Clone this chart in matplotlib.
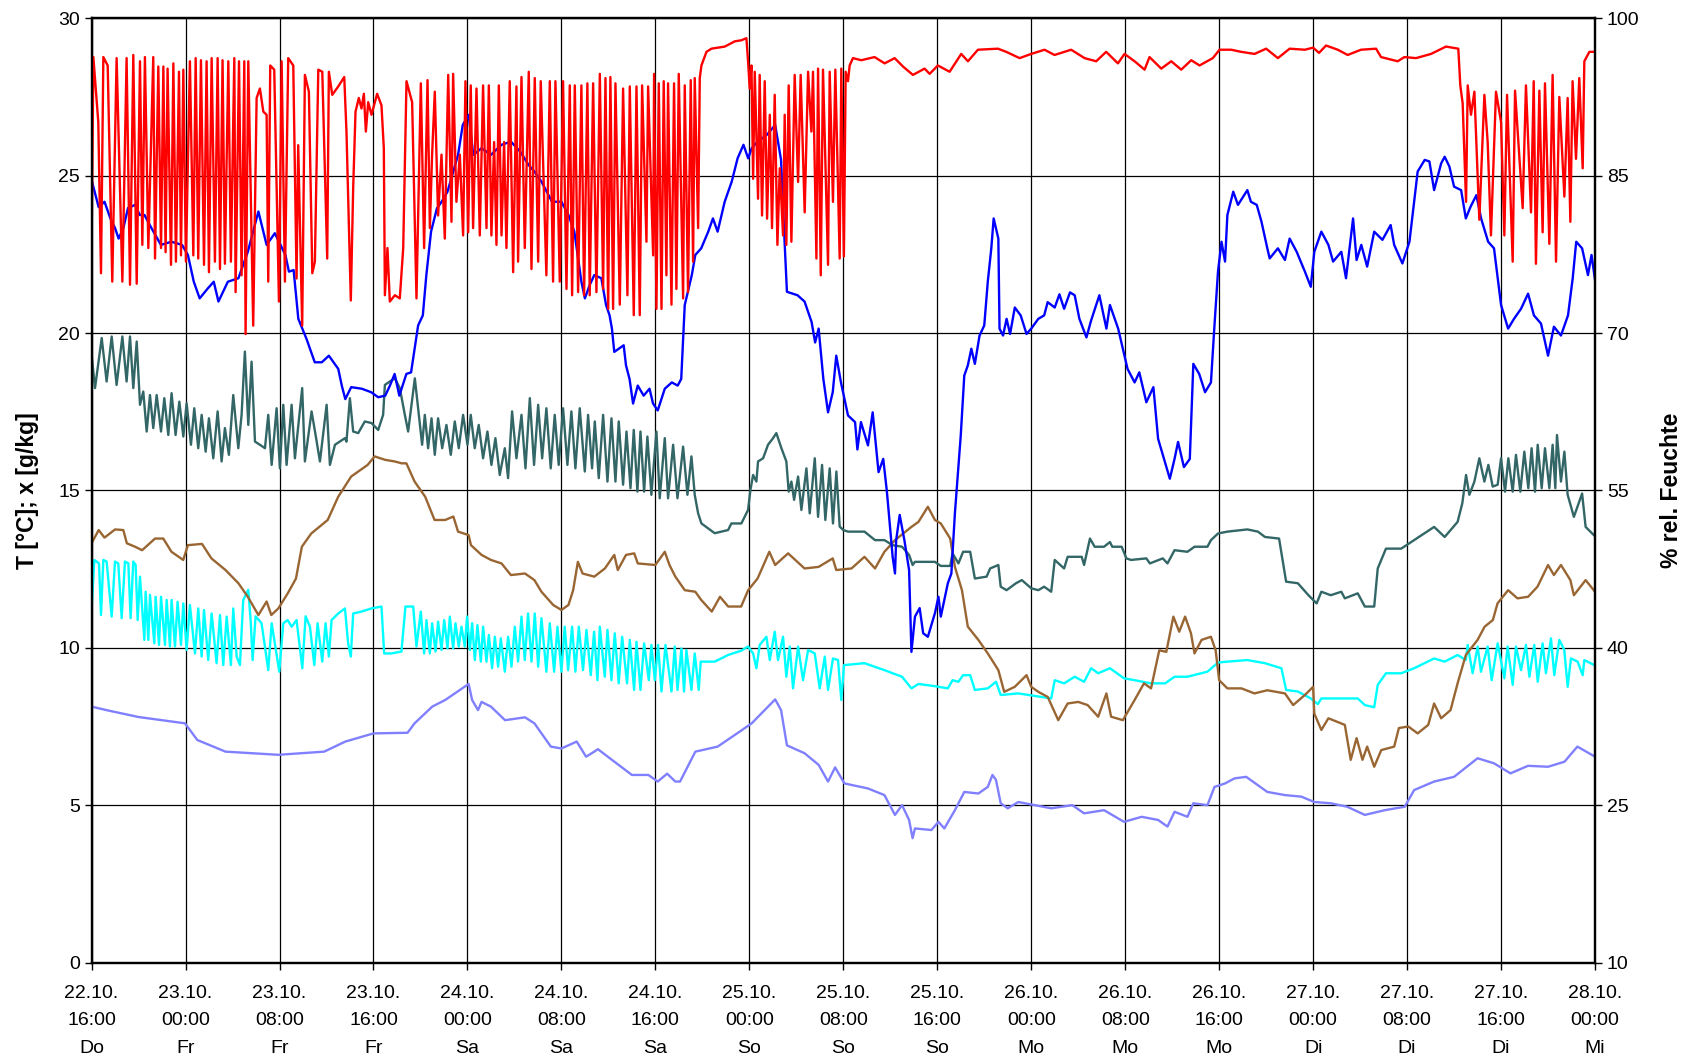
import matplotlib
matplotlib.use("Agg")
import matplotlib.pyplot as plt

plt.rcParams['font.family'] = ['Liberation Sans', 'DejaVu Sans']

# ---------------- data (time in hours since 22.10. 16:00) ----------------
tick_dates = ["22.10.", "23.10.", "23.10.", "23.10.", "24.10.", "24.10.", "24.10.", "25.10.", "25.10.",
              "25.10.", "26.10.", "26.10.", "26.10.", "27.10.", "27.10.", "27.10.", "28.10."]
tick_times = ["16:00", "00:00", "08:00", "16:00", "00:00", "08:00", "16:00", "00:00", "08:00",
              "16:00", "00:00", "08:00", "16:00", "00:00", "08:00", "16:00", "00:00"]
tick_days = ["Do", "Fr", "Fr", "Fr", "Sa", "Sa", "Sa", "So", "So", "So", "Mo", "Mo", "Mo", "Di", "Di", "Di", "Mi"]

# relative humidity (right axis, %)
red_pts = [
    (0.0,78.4),(0.15,96.3),(0.57,90.1),(0.80,75.7),(1.0,96.3),(1.37,95.5),(1.76,74.9),(2.13,96.2),(2.62,74.9),(2.98,96.2),
    (3.27,74.6),(3.55,96.5),(3.84,74.7),(4.12,95.9),(4.32,78.4),(4.54,96.3),(4.83,78.1),(5.25,96.3),(5.40,77.1),(5.68,95.4),
    (5.91,78.1),(6.11,95.4),(6.30,77.7),(6.47,95.2),(6.76,76.5),(6.96,95.7),(7.18,76.8),(7.44,94.9),(7.61,77.4),(7.81,95.1),
    (8.03,76.8),(8.37,95.9),(8.66,77.4),(8.86,96.2),(9.08,77.1),(9.31,96.0),(9.57,76.5),(9.79,95.9),(9.99,75.8),(10.22,96.2),
    (10.50,76.8),(10.73,96.2),(10.93,76.1),(11.15,96.0),(11.35,76.6),(11.64,95.9),(11.86,76.8),(12.15,96.2),(12.26,73.9),
    (12.55,95.9),(12.77,75.5),(13.0,95.9),(13.11,69.9),(13.34,95.9),(13.76,70.7),(14.05,92.4),(14.33,93.3),(14.62,91.1),
    (14.90,90.8),(15.04,74.9),(15.21,95.5),(15.55,95.1),(15.95,73.0),(16.18,95.9),(16.46,74.9),(16.74,96.2),(17.17,95.5),
    (17.45,75.2),(17.59,87.9),(17.93,70.7),(18.16,94.6),(18.50,93.0),(18.79,75.7),(19.01,76.8),(19.30,95.1),(19.64,94.9),
    (20.06,77.1),(20.20,94.9),(20.49,92.7),(21.0,93.5),(21.51,94.4),
    (21.70,89.2),(21.90,80.3),(22.07,73.1),(22.27,83.8),(22.47,91.1),(22.75,92.4),(22.98,91.4),(23.18,92.8),(23.35,89.2),
    (23.55,92.0),(23.83,90.8),(24.31,92.8),(24.68,91.7),(24.88,87.6),(24.97,73.6),(25.19,78.1),(25.39,73.0),(25.82,73.6),
    (26.24,73.3),(26.53,78.1),(26.81,94.0),(27.29,92.0),(27.52,80.6),(27.66,73.3),(28.03,93.8),(28.31,78.1),(28.60,94.1),
    (28.80,80.0),(28.99,87.0),(29.22,93.0),(29.50,81.2),(29.79,87.0),(30.07,79.0),(30.36,94.6),(30.64,80.6),(30.78,94.7),
    (31.06,82.5),(31.35,87.0),(31.63,79.3),(31.83,94.0),(32.06,79.6),(32.28,93.6),(32.48,80.0),(32.77,93.3),(33.05,79.3),
    (33.33,93.6),(33.62,80.0),(33.82,93.6),(34.04,79.3),(34.27,88.2),(34.47,78.4),(34.67,93.6),(34.90,79.3),(35.12,88.2),
    (35.32,78.1),(35.60,94.0),(35.89,75.8),(36.17,93.5),(36.31,76.8),(36.60,94.4),(36.88,78.1),(37.22,94.9),(37.45,76.1),
    (37.73,94.3),(38.02,76.8),(38.24,94.0),(38.72,75.5),(39.01,94.0),(39.29,74.9),(39.49,94.0),(39.86,74.9),(40.14,94.0),
    (40.43,74.2),(40.71,93.6),(40.91,73.6),(41.14,93.6),(41.42,73.9),(41.70,93.6),(41.93,73.6),(42.21,93.8),(42.41,73.6),
    (42.70,93.8),
    (42.98,73.9),(43.27,94.7),(43.55,74.2),(43.75,94.3),(43.98,72.3),(44.17,94.4),(44.40,72.3),(44.60,93.8),(44.97,72.7),
    (45.25,93.3),(45.62,73.6),(45.82,93.5),(46.16,71.7),(46.39,93.5),(46.67,71.7),(46.87,93.6),(47.24,78.7),(47.38,93.5),
    (47.81,77.4),(47.89,94.7),(48.09,72.3),(48.29,93.8),(48.52,72.3),(48.71,94.0),(48.94,75.5),(49.08,93.8),(49.37,72.7),
    (49.59,93.8),(49.79,74.2),(49.99,94.7),(50.36,73.3),(50.50,93.6),(50.78,73.9),(51.01,94.1),(51.21,76.8),(51.35,94.3),
    (51.64,80.0),(51.78,94.3),(51.92,95.5),(52.35,96.8),(52.77,97.1),(53.91,97.3),(54.76,97.8),(55.32,97.9),(55.75,98.1),
    (55.89,95.9),(56.03,93.3),(56.18,95.5),(56.32,84.7),(56.46,94.9),(56.74,82.8),(56.88,94.6),(57.08,81.2),(57.31,94.0),
    (57.51,80.9),(57.74,90.8),(57.93,80.0),(58.16,92.7),(58.39,78.4),(58.59,85.7),(58.87,79.3),(59.01,90.8),(59.15,78.4),
    (59.35,93.6),(59.58,78.7),(59.86,94.6),(60.15,84.4),(60.37,94.6),(60.71,81.5),(61.0,94.9),(61.28,89.2),(61.42,94.9),
    (61.71,77.1),(61.85,95.2),(62.08,75.5),(62.27,95.1),(62.70,76.5),(62.84,94.9),(63.12,82.5),(63.32,95.1),(63.69,77.1),
    (63.83,95.2),(64.05,77.3),
    (64.2,94.9),(64.4,94.0),(64.54,95.5),(64.82,96.2),(65.53,96.0),(66.66,96.3),(67.52,95.7),(68.37,96.2),(69.08,95.4),
    (69.93,94.6),(70.92,95.2),(71.35,94.7),(72.05,95.5),(73.05,94.9),(74.04,96.6),(74.61,95.9),(75.46,97.0),(77.16,97.1),
    (77.87,96.8),(79.01,96.2),(80.0,96.6),(81.13,97.0),(81.98,96.5),(83.40,97.0),(84.54,96.2),
    (85.53,95.9),(86.38,96.8),(87.38,95.7),(87.94,96.6),(88.80,95.9),(89.65,95.1),(90.07,96.3),(91.07,95.2),(91.92,95.9),
    (92.77,95.1),(93.62,96.0),(94.33,95.5),(95.46,96.2),(96.03,97.0),(97.02,97.0),(97.87,96.8),(99.01,96.6),(100.0,97.1),
    (101.0,96.2),(102.0,97.1),(103.3,97.0),(104.0,97.2),(104.5,96.7),(105.1,97.4),(106.1,97.0),
    (106.94,96.5),(108.08,97.0),(109.36,97.1),(109.78,96.3),(111.20,95.9),(111.77,96.3),(112.76,96.2),(114.04,96.6),
    (115.31,97.3),(116.36,97.1),(116.53,93.6),(116.73,91.9),(117.02,82.5),(117.16,93.6),(117.44,90.8),(117.73,93.0),
    (118.15,80.8),(118.58,92.7),(118.86,88.2),(119.14,79.3),(119.57,93.0),(120.0,90.1),(120.28,79.3),(120.51,92.7),
    (120.99,76.8),(121.19,93.1),(121.84,81.9),(122.12,93.6),(122.55,81.5),(122.78,94.0),(122.97,76.6),(123.26,93.1),
    (123.54,79.6),(123.74,93.8),(124.11,78.5),(124.39,94.6),(124.68,76.8),(124.96,92.5),(125.39,83.0),(125.67,92.4),
    (125.90,80.6),(126.09,94.0),(126.38,86.6),(126.66,94.3),(126.95,85.7),(127.09,95.9),(127.52,96.8),(128.0,96.8),
]

# temperature (left axis)
blue_pts = [
    (0,24.86),(0.6,24.0),(1.1,24.17),(1.6,23.64),(2.0,23.33),(2.3,23.0),(2.7,23.33),(3.1,23.97),(3.7,24.07),(4.1,23.75),
    (4.5,23.75),(5.1,23.33),(5.9,22.8),(6.8,22.9),(7.7,22.8),(8.2,22.48),(8.7,21.63),(9.2,21.1),(9.9,21.42),(10.4,21.63),
    (10.8,21.0),(11.6,21.63),(12.5,21.74),(12.9,22.16),(13.3,22.58),(14.2,23.86),(14.9,22.8),(15.6,23.17),(16.5,22.48),
    (16.8,21.95),(17.2,22.0),(17.6,20.45),(18.3,19.81),(19.0,19.07),(19.6,19.07),(20.2,19.28),(21.0,18.86),(21.3,18.33),
    (21.6,17.9),(22.1,18.28),(23.0,18.23),(23.8,18.12),(24.4,17.96),(25.0,18.01),(25.4,18.33),(25.8,18.7),(26.2,18.01),
    (26.8,18.7),(27.2,18.75),(27.5,19.5),(27.8,20.24),(28.2,20.56),(28.5,21.84),(28.9,23.22),(29.4,23.96),(29.8,24.17),
    (30.3,24.49),(31.2,25.66),(31.6,26.61),(32.1,26.93),(32.5,25.66),(33.2,25.87),(34.0,25.66),(34.9,25.98),(35.7,26.08),
    (36.5,25.76),(37.2,25.34),(37.7,25.13),(38.3,24.81),(39.2,24.17),(40.0,24.17),(40.6,23.75),(41.1,23.22),(41.7,21.63),
    (42.0,21.1),(42.4,21.52),(42.8,21.84),(43.4,21.74),(43.8,20.89),(44.1,20.56),(44.3,20.14),(44.5,19.4),(45.3,19.61),
    (45.5,18.97),(45.8,18.54),(46.1,17.76),(46.5,18.33),(47.0,18.01),(47.5,18.23),(47.8,17.76),(48.2,17.54),(48.8,18.23),
    (49.4,18.43),(49.9,18.33),(50.2,18.54),(50.5,20.89),(51.1,21.84),(51.4,22.48),(51.9,22.69),(52.5,23.22),(52.9,23.64),
    (53.3,23.22),(53.9,24.17),(54.5,24.81),(55.0,25.55),(55.5,25.98),(55.9,25.55),(56.2,25.87),(56.7,26.08),(57.5,26.3),
    (58.2,26.61),(58.7,25.5),(59.0,22.9),(59.2,21.31),(60.1,21.2),(60.7,21.0),(61.3,20.35),(61.6,19.7),(61.9,20.14),
    (62.3,18.54),(62.7,17.48),(63.1,18.12),(63.4,19.28),(63.8,18.43),(64.4,17.38),(65.0,17.17),(65.2,16.3),(65.5,17.17),
    (66.1,16.43),(66.5,17.48),(67.0,15.58),(67.4,16.0),(67.7,15.0),(67.8,14.59),(68.2,12.89),(68.4,12.36),(68.5,13.42),
    (68.8,14.22),(69.2,13.42),(69.6,12.47),(69.8,9.87),(70.1,10.99),(70.5,11.26),(70.8,10.46),(71.2,10.35),(71.8,11.1),
    (72.1,11.62),(72.3,10.99),(72.9,12.05),(73.2,12.36),(73.5,14.27),(74.0,16.75),(74.3,18.65),(74.6,18.97),(74.9,19.5),
    (75.2,19.02),(75.6,19.92),(76.0,20.24),(76.3,21.63),(76.6,22.69),(76.8,23.64),(77.2,23.0),(77.3,20.14),(77.6,19.92),
    (77.9,20.45),(78.2,19.97),(78.6,20.81),(79.1,20.56),(79.6,19.97),(80.0,20.14),(80.6,20.45),(81.1,20.56),(81.4,20.98),
    (82.0,20.81),(82.4,21.23),(82.8,20.77),(83.3,21.29),(83.7,21.2),(84.1,20.45),(84.7,19.86),(85.1,20.4),(85.8,21.2),
    (86.4,20.14),(86.7,20.89),(87.4,20.14),(88.2,18.86),(88.8,18.43),(89.2,18.75),(89.8,17.8),(90.4,18.28),(90.8,16.64),
    (91.3,16.0),(91.8,15.37),(92.2,16.0),(92.5,16.54),(93.0,15.74),(93.5,16.0),(93.8,19.02),(94.3,18.7),(94.8,18.12),
    (95.3,18.43),(95.6,20.24),(95.9,21.95),(96.2,22.9),(96.5,22.27),(96.7,23.75),(97.2,24.49),(97.6,24.07),(98.4,24.54),
    (98.7,24.17),(99.2,24.07),(99.6,23.54),(100.1,22.69),(100.3,22.37),(101.0,22.69),(101.6,22.32),(102.0,23.0),
    (102.6,22.58),(103.3,21.95),(103.8,21.47),(104.1,22.58),(104.7,23.22),(105.3,22.8),(105.7,22.27),(106.4,22.58),
    (106.8,21.74),(107.4,23.64),(107.7,22.32),(108.1,22.8),(108.6,22.11),(109.2,23.22),(109.9,22.96),(110.6,23.43),
    (110.9,22.8),(111.6,22.21),(112.2,22.9),(112.6,24.17),(112.9,25.13),(113.5,25.5),(113.9,25.45),(114.3,24.54),
    (114.9,25.39),(115.2,25.6),(115.6,25.29),(116.0,24.65),(116.6,24.54),(117.0,23.64),(117.4,24.01),(117.9,24.38),
    (118.3,23.64),(118.9,22.9),(119.4,22.69),(120.0,20.89),(120.6,20.14),(121.1,20.45),(121.7,20.77),(122.3,21.25),
    (122.8,20.56),(123.4,20.3),(124.0,19.28),(124.5,20.2),(125.1,19.92),(125.7,20.56),(126.1,21.74),(126.4,22.9),
    (126.9,22.69),(127.4,21.84),(127.7,22.48),(128.0,21.69),
]

teal_pts = [
    (0.0,19.31),(0.29,18.25),(0.86,19.84),(1.28,18.46),(1.71,19.89),(2.13,18.35),(2.62,19.89),(2.98,18.46),(3.27,19.89),
    (3.55,18.25),(3.84,19.73),(4.12,17.72),(4.40,18.14),(4.69,16.87),(4.97,18.03),(5.25,16.98),(5.54,18.03),(5.91,16.87),
    (6.19,17.93),(6.53,16.76),(6.81,18.09),(7.15,16.76),(7.47,17.82),(7.81,16.71),(8.09,17.77),(8.46,16.45),(8.74,17.61),
    (9.08,16.34),(9.37,17.40),(9.71,16.23),(9.99,17.29),(10.36,16.02),(10.73,17.51),(11.07,15.92),(11.35,16.98),
    (11.69,16.13),(12.06,18.03),(12.49,16.34),(12.77,17.40),(13.05,19.41),(13.34,17.08),(13.62,19.09),(13.91,16.55),
    (14.33,16.45),(14.76,16.34),(15.04,17.40),(15.33,15.81),(15.75,17.61),(16.03,15.70),(16.32,17.72),(16.60,15.81),
    (17.03,17.72),(17.31,16.02),(17.93,18.25),(18.16,15.92),(18.73,17.51),(19.07,16.76),(19.44,15.92),(20.01,17.72),
    (20.29,15.81),(20.72,16.45),(21.57,16.66),(21.70,16.55),(21.99,17.93),(22.27,16.87),(22.70,16.82),(23.26,17.19),
    (23.83,17.14),(24.40,16.92),(24.82,17.40),(24.97,18.35),(25.39,18.46),(25.82,18.56),(26.24,18.25),(26.67,17.40),
    (26.95,16.87),(27.52,18.56),(27.80,17.61),(28.14,16.45),(28.37,17.40),(28.65,16.34),(28.94,17.29),(29.22,16.13),
    (29.50,17.29),(29.85,16.34),(30.21,17.08),(30.58,16.13),(30.92,17.19),(31.26,16.34),(31.63,17.40),(32.0,16.45),
    (32.28,17.40),(32.62,16.34),(32.96,17.08),(33.33,16.02),(33.70,16.87),(34.04,15.81),(34.38,16.66),(34.75,15.49),
    (35.18,16.34),(35.46,15.39),(35.80,17.51),(36.17,16.02),(36.60,17.40),(36.94,15.70),(37.31,17.93),(37.67,15.81),
    (38.02,17.72),(38.36,16.02),(38.72,17.61),(39.09,15.70),(39.43,17.40),(39.77,15.81),(40.14,17.61),(40.51,15.81),
    (40.85,17.51),(41.19,15.70),(41.56,17.61),(41.99,15.60),(42.27,17.40),(42.61,15.70),(42.84,17.19),(43.18,15.39),
    (43.55,17.40),(43.92,15.28),(44.26,17.29),(44.60,15.28),(44.88,17.19),(45.25,15.18),(45.54,16.87),(45.88,15.07),
    (46.16,16.92),(46.47,14.96),(46.73,16.87),(47.04,14.96),(47.32,16.71),(47.66,14.86),(48.09,16.87),(48.37,14.75),
    (48.80,16.66),(49.08,14.75),(49.51,16.45),(49.88,14.75),(50.36,16.39),(50.73,14.86),(51.07,16.08),(51.35,14.86),
    (51.64,14.27),(51.92,13.95),(53.05,13.64),(54.19,13.74),(54.47,13.95),(55.32,13.95),(55.89,14.38),(56.09,15.01),
    (56.32,15.49),(56.60,15.28),(56.74,15.92),(57.17,16.02),(57.59,16.45),(58.02,16.66),(58.30,16.82),(58.73,16.34),
    (59.15,15.92),(59.35,14.96),(59.58,15.28),(59.81,14.7),(60.15,15.44),(60.43,14.38),(60.86,15.70),(61.14,14.27),
    (61.57,16.02),(61.85,14.16),(62.19,15.81),(62.47,14.06),(62.84,15.70),(63.12,13.95),(63.41,15.60),(63.69,13.85),
    (64.0,13.74),(64.4,13.69),(65.8,13.69),(66.7,13.42),(67.5,13.42),(68.2,13.26),(69.0,13.21),(69.6,12.95),(69.9,12.63),
    (70.1,12.73),(71.8,12.73),(72.3,12.60),(73.1,12.60),(73.3,13.0),(73.8,12.68),(74.2,13.05),(74.8,13.05),(75.2,12.20),
    (76.2,12.26),(76.5,12.52),(77.2,12.63),(77.4,11.94),(77.9,11.83),(78.7,12.05),(79.2,12.15),(80.0,11.89),(80.6,11.83),
    (81.1,11.94),(81.7,11.78),(82.0,12.79),(82.8,12.52),(83.1,12.89),(84.3,12.89),(84.5,12.63),(85.0,13.47),(85.4,13.21),
    (86.2,13.21),(86.7,13.36),(86.9,13.21),(87.7,13.21),(88.1,12.84),(88.5,12.79),(89.8,12.84),(90.1,12.68),(91.2,12.84),
    (91.6,12.68),(92.2,13.10),(93.3,13.05),(93.9,13.21),(95.0,13.21),(95.3,13.42),(95.9,13.63),(96.7,13.69),(98.4,13.76),
    (99.3,13.69),(99.9,13.52),(101.1,13.47),(101.7,12.10),(102.7,12.05),(103.6,11.67),(104.3,11.41),(104.7,11.78),
    (105.5,11.67),(106.4,11.78),(106.7,11.57),(107.8,11.73),(108.4,11.31),(109.2,11.31),(109.5,12.52),(110.2,13.15),
    (111.5,13.15),(112.6,13.42),(114.3,13.84),(115.2,13.52),(116.3,14.0),(116.7,14.59),(117.02,15.49),(117.30,14.86),
    (117.73,15.28),(118.15,16.02),(118.58,15.28),(118.92,15.81),(119.29,15.12),(119.71,15.18),(120.0,16.02),(120.34,14.96),
    (120.62,16.02),(120.99,14.96),(121.27,16.13),(121.64,14.96),(121.98,16.23),(122.32,15.07),(122.60,16.34),(122.89,14.96),
    (123.12,16.45),(123.46,15.07),(123.74,16.34),(124.11,15.07),(124.39,16.45),(124.62,15.07),(124.76,16.76),(125.10,15.28),
    (125.39,16.23),(125.67,14.86),(126.2,14.16),(126.9,14.9),(127.2,13.84),(127.9,13.58),
]

brown_pts = [
    (0,13.32),(0.6,13.74),(1.1,13.5),(2.0,13.76),(2.7,13.74),(3.0,13.32),(3.7,13.21),(4.3,13.1),(5.4,13.47),(6.1,13.47),
    (6.8,13.05),(7.8,12.79),(8.2,13.26),(9.4,13.3),(10.2,12.84),(11.4,12.47),(12.5,12.05),(13.3,11.62),(14.2,11.04),
    (14.9,11.47),(15.3,11.04),(15.9,11.25),(16.7,11.73),(17.4,12.2),(17.9,13.21),(18.7,13.63),(20.1,14.06),(21.0,14.8),
    (22.1,15.44),(23.5,15.81),(24.1,16.08),(25.0,15.97),(25.8,15.92),(26.4,15.86),(26.8,15.86),(27.5,15.28),(28.4,14.8),
    (29.2,14.06),(30.1,14.06),(30.8,14.17),(31.2,13.69),(32.1,13.58),(32.3,13.26),(33.2,12.95),(34.0,12.79),(34.9,12.68),
    (35.7,12.31),(36.9,12.36),(37.7,12.15),(38.3,11.78),(39.3,11.36),(40.0,11.2),(40.6,11.36),(41.0,11.83),(41.4,12.73),
    (41.8,12.36),(42.8,12.26),(43.7,12.52),(44.5,12.95),(44.8,12.47),(45.5,12.95),(46.2,13.0),(46.5,12.68),(48.0,12.63),
    (48.8,13.05),(49.2,12.63),(49.7,12.26),(50.5,11.83),(51.4,11.78),(51.9,11.52),(52.8,11.15),(53.5,11.62),(54.2,11.31),
    (55.3,11.31),(55.9,11.83),(56.7,12.2),(57.7,13.05),(58.2,12.63),(59.3,13.0),(60.7,12.52),(61.9,12.57),(63.1,12.84),
    (63.4,12.47),(64.7,12.52),(65.8,12.89),(66.7,12.52),(67.5,13.05),(68.4,13.42),(69.8,13.84),(70.4,14.0),(71.2,14.48),
    (71.8,14.06),(72.3,13.95),(73.1,13.47),(73.5,12.57),(74.1,11.83),(74.6,10.67),(75.5,10.25),(76.3,9.82),(77.2,9.29),
    (77.7,8.6),(78.6,8.76),(79.6,9.13),(80.0,8.76),(80.6,8.6),(81.4,8.44),(82.3,7.7),(83.1,8.23),(84.0,8.28),(84.8,8.18),
    (85.7,7.81),(86.4,8.55),(86.8,7.81),(87.8,7.7),(88.8,8.34),(89.6,8.87),(90.2,8.71),(90.9,9.92),(91.5,9.87),(92.1,10.99),
    (92.6,10.51),(93.1,10.99),(93.6,10.46),(93.9,9.82),(94.5,10.25),(95.3,10.35),(95.7,9.92),(96.0,8.97),(96.7,8.71),
    (97.9,8.71),(99.0,8.55),(100.1,8.65),(101.6,8.55),(102.3,8.18),(103.3,8.5),(104.0,8.76),(104.1,7.91),(104.7,7.39),
    (105.3,7.76),(106.7,7.55),(107.2,6.44),(107.7,7.13),(108.2,6.44),(108.6,6.86),(109.2,6.22),(109.8,6.75),(110.9,6.86),
    (111.3,7.45),(112.1,7.5),(112.9,7.28),(113.8,7.55),(114.3,8.23),(114.9,7.76),(115.7,8.02),(116.3,8.87),(117.0,9.77),
    (118.0,10.25),(118.6,10.67),(119.3,10.88),(119.7,11.41),(120.6,11.83),(121.4,11.57),(122.3,11.62),(123.1,11.94),
    (124.0,12.63),(124.5,12.31),(125.1,12.63),(125.9,12.15),(126.2,11.67),(127.2,12.15),(128.0,11.78),
]

cyan_pts = [
    (0.0,11.2),(0.23,12.79),(0.63,12.68),(0.80,11.04),(1.0,12.79),(1.28,12.74),(1.71,10.99),(1.99,12.74),(2.27,12.68),
    (2.56,10.94),(2.84,12.74),(3.13,12.68),(3.32,10.94),(3.55,12.74),(3.75,12.63),(3.92,10.88),(4.12,12.26),(4.49,10.25),
    (4.60,11.78),(4.83,10.25),(4.97,11.68),(5.34,10.14),(5.45,11.62),(5.74,10.09),(5.91,11.62),(6.25,10.09),(6.39,11.52),
    (6.67,10.04),(6.81,11.52),(7.10,10.04),(7.32,11.46),(7.61,10.09),(7.81,11.41),(8.09,9.93),(8.37,11.36),(8.80,9.82),
    (9.08,11.25),(9.37,9.72),(9.57,11.2),(9.93,9.61),(10.22,11.09),(10.64,9.51),(10.93,11.04),(11.21,9.45),(11.50,10.99),
    (11.86,9.45),(12.06,11.25),(12.35,9.72),(12.63,9.45),(12.91,11.52),(13.34,11.84),(13.54,10.88),(13.71,9.61),(13.96,11.0),
    (14.47,10.78),(15.04,9.29),(15.33,10.78),(15.98,9.24),(16.32,10.78),(16.69,10.88),(17.03,10.67),(17.45,10.88),
    (17.94,9.35),(18.22,11.0),(18.59,10.67),(18.96,9.45),(19.24,10.78),(19.64,9.56),(19.92,10.78),(20.20,9.72),(20.43,10.88),
    (21.0,11.09),(21.57,11.25),(21.84,10.14),(22.07,9.72),(22.27,11.09),(22.98,11.15),(23.83,11.25),(24.68,11.31),
    (24.91,9.82),(25.53,9.82),(26.38,9.88),(26.72,11.31),(27.38,11.31),(27.66,10.04),(28.03,11.15),(28.31,9.82),(28.51,10.88),
    (28.80,9.82),(28.99,10.78),(29.28,9.88),(29.50,10.83),(29.79,9.93),(30.02,10.88),(30.30,9.98),(30.50,10.99),(30.78,9.98),
    (30.98,10.78),(31.26,10.04),(31.49,10.67),(31.77,10.04),(31.97,10.99),(32.20,9.93),(32.40,10.78),(32.63,9.61),
    (32.85,10.72),(33.14,9.56),(33.33,10.67),(33.62,9.56),(33.82,10.41),(34.10,9.35),(34.33,10.35),(34.61,9.40),(34.84,10.30),
    (35.18,9.24),(35.46,10.35),(35.75,9.40),(36.03,10.67),(36.31,9.56),(36.60,10.99),(36.88,9.61),(37.16,11.09),(37.45,9.56),
    (37.73,11.09),(38.02,9.40),(38.30,10.94),(38.72,9.24),(39.01,10.78),(39.38,9.24),(39.66,10.67),(40.0,9.24),(40.28,10.67),
    (40.57,9.29),(40.91,10.67),(41.19,9.24),(41.48,10.67),(41.84,9.29),(42.13,10.57),(42.50,9.13),(42.78,10.51),(43.07,8.97),
    (43.27,10.67),(43.69,9.08),(43.92,10.57),(44.26,8.97),(44.54,10.46),(44.88,8.87),(45.17,10.35),(45.59,8.87),(45.82,10.25),
    (46.19,8.66),(46.39,10.19),(46.73,8.66),(47.04,10.14),(47.44,8.97),(47.66,10.09),(47.95,8.97),(48.23,10.09),(48.52,8.61),
    (48.86,10.09),(49.37,8.61),(49.65,10.04),(49.88,8.66),(50.22,9.98),(50.44,8.61),(50.64,9.93),(51.07,8.66),(51.35,9.82),
    (51.69,8.66),(51.86,9.56),(53.05,9.56),(54.19,9.77),(55.32,9.91),(55.89,10.04),(56.32,9.82),(56.60,9.35),(56.88,10.09),
    (57.45,10.35),(57.74,9.61),(58.16,10.51),(58.44,9.61),(58.87,10.35),(59.15,9.08),(59.44,10.04),(59.72,8.71),(60.15,10.04),
    (60.57,8.97),(61.0,9.93),(61.57,9.82),(61.99,8.71),(62.42,9.72),(62.70,8.66),(63.12,9.66),(63.55,9.61),(63.83,8.34),
    (64.06,9.45),(65.8,9.51),(67.5,9.29),(69.0,9.08),(69.8,8.71),(70.4,8.85),(71.8,8.78),(72.9,8.71),(73.3,8.97),(73.8,8.92),
    (74.2,9.13),(74.8,9.13),(75.2,8.66),(76.3,8.71),(77.0,8.92),(77.4,8.5),(78.9,8.55),(80.3,8.47),(81.7,8.39),(82.0,8.97),
    (82.8,8.87),(83.7,9.08),(84.5,8.92),(85.1,9.35),(85.7,9.19),(86.7,9.35),(87.9,9.03),(88.8,8.97),(90.2,8.87),(91.4,8.87),
    (92.2,9.08),(93.3,9.08),(95.0,9.24),(95.9,9.53),(96.7,9.56),(98.4,9.61),(99.9,9.51),(101.3,9.35),(101.7,8.66),
    (102.7,8.61),(103.8,8.39),(104.4,8.21),(104.7,8.39),(106.7,8.39),(107.8,8.39),(108.4,8.18),(109.2,8.11),(109.5,8.82),
    (110.2,9.19),(111.5,9.19),(112.6,9.35),(114.3,9.66),(115.2,9.56),(116.3,9.77),(117.0,9.61),(117.16,10.09),(117.58,9.19),
    (118.01,10.04),(118.29,9.24),(118.86,10.04),(119.2,8.97),(119.71,10.14),(120.28,9.03),(120.56,10.04),(120.99,8.82),
    (121.27,10.04),(121.70,9.29),(122.12,10.09),(122.41,9.08),(122.83,10.09),(123.12,8.92),(123.54,10.14),(123.82,9.19),
    (124.25,10.30),(124.53,9.13),(124.96,10.25),(125.38,9.93),(125.67,8.76),(125.95,9.66),(126.52,9.56),(126.95,9.13),
    (127.09,9.61),(127.94,9.45),
]

purple_pts = [
    (0,8.13),(1.5,8.0),(4,7.8),(7.95,7.6),(9.0,7.07),(11.4,6.7),(15.9,6.6),(19.8,6.7),(21.6,7.02),(24,7.28),(26.9,7.3),
    (27.5,7.6),(29,8.13),(30.1,8.34),(32.1,8.85),(32.4,8.34),(32.9,8.02),(33.2,8.28),(34,8.13),(35.2,7.7),(36.9,7.79),
    (37.7,7.6),(39.1,6.86),(40,6.8),(41.3,7.02),(42.1,6.54),(42.8,6.7),(43.1,6.78),(44.3,6.44),(46,5.96),(47.4,5.96),
    (48.2,5.75),(49,6.0),(49.7,5.75),(50.1,5.75),(51.4,6.7),(53.3,6.86),(54.8,7.24),(56.2,7.6),(58.2,8.36),(58.7,8.02),
    (59.2,6.9),(60.7,6.65),(61.9,6.28),(62.7,5.75),(63.3,6.2),(64.1,5.69),(66.1,5.53),(67.5,5.32),(68.4,4.69),(69,5.0),
    (69.6,4.53),(69.9,3.95),(70.1,4.26),(71.5,4.21),(72.1,4.47),(72.6,4.26),(73.5,4.84),(74.3,5.42),(75.5,5.37),(76.3,5.58),
    (76.7,5.96),(77,5.8),(77.4,5.06),(78,4.9),(78.9,5.1),(80.3,5.0),(81.7,4.9),(83.5,5.0),(84.5,4.74),(86.2,4.84),(87.9,4.47),
    (89.4,4.63),(90.8,4.53),(91.6,4.32),(92.2,4.79),(93.3,4.63),(93.8,5.06),(95,5.0),(95.6,5.58),(96.5,5.69),(97.3,5.85),
    (98.3,5.9),(100.1,5.42),(101.6,5.32),(103,5.27),(104.1,5.1),(105.5,5.06),(106.9,4.95),(108.4,4.69),(110.1,4.84),
    (111.8,4.95),(112.6,5.48),(114.3,5.75),(116,5.9),(118,6.49),(119.4,6.33),(120.8,6.01),(122.3,6.25),(124,6.22),
    (125.4,6.38),(126.5,6.86),(128,6.54),
]

# ---------------- figure ----------------
fig = plt.figure(figsize=(16.9, 10.61), dpi=100)
ax = fig.add_axes([0.0542, 0.0928, 0.8896, 0.8900])
ax2 = ax.twinx()

lw = 1.7
for pts, col in [(purple_pts, '#8080FF'), (cyan_pts, '#00FFFF'), (brown_pts, '#996633'),
                 (teal_pts, '#336666'), (blue_pts, '#0000FF')]:
    xs, ys = zip(*pts)
    ax.plot(xs, ys, color=col, lw=lw)
rx, ry = zip(*red_pts)
ax2.plot(rx, ry, color='#FF0000', lw=lw)

ax.set_xlim(0, 128)
ax.set_ylim(0, 30)
ax2.set_ylim(10, 100)
ax.set_yticks(range(0, 31, 5))
ax2.set_yticks(range(10, 101, 15))
ax.set_xticks(range(0, 129, 8))
ax.set_xticklabels([f"{d}\n{t}\n{w}" for d, t, w in zip(tick_dates, tick_times, tick_days)],
                   linespacing=1.82)

ax.grid(True, color='black', lw=0.9)
ax.set_axisbelow(True)

for a in (ax, ax2):
    a.tick_params(axis='both', labelsize=14, direction='out', length=5, width=1, colors='black')
    for s in a.spines.values():
        s.set_linewidth(1.6)
        s.set_color('black')
ax.tick_params(axis='x', pad=11)

ax.set_ylabel("T [°C]; x [g/kg]", fontsize=16.5, fontweight='bold')
ax.yaxis.set_label_coords(-0.035, 0.5)
ax2.set_ylabel("% rel. Feuchte", fontsize=16.5, fontweight='bold', rotation=90)
ax2.yaxis.set_label_coords(1.0435, 0.5)

fig.savefig("out.png", dpi=100, facecolor='white')
